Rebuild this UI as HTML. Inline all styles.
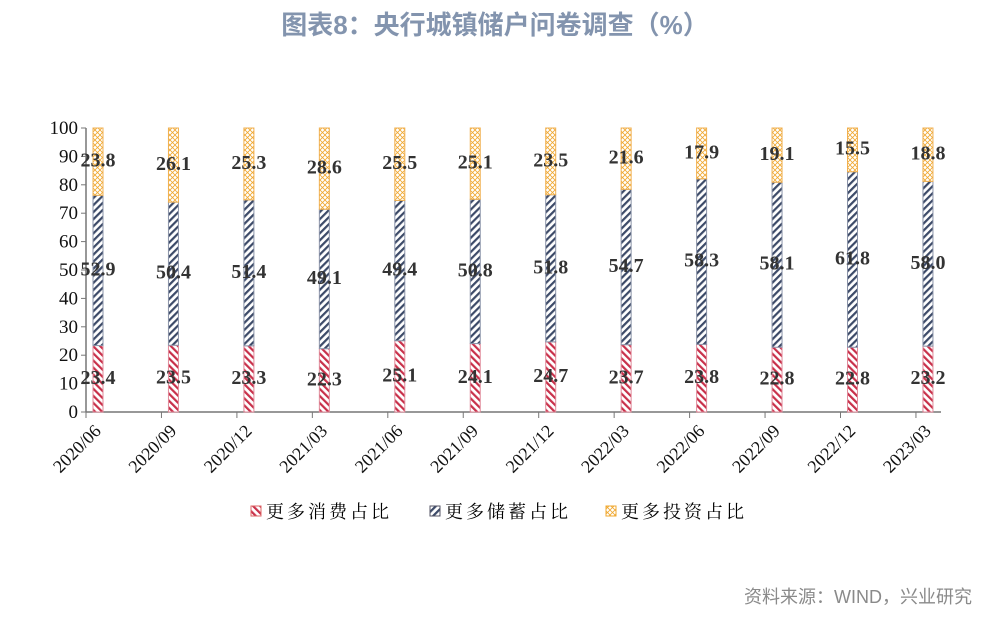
<!DOCTYPE html>
<html><head><meta charset="utf-8"><style>
body{margin:0;background:#fff;width:990px;height:616px;overflow:hidden}
svg text{font-family:"Liberation Serif","Noto Serif CJK SC",serif}
svg text.sans{font-family:"Liberation Sans","Noto Sans CJK SC",sans-serif}
</style></head><body>
<svg width="990" height="616" xmlns="http://www.w3.org/2000/svg">
<defs>
<pattern id="pRed" patternUnits="userSpaceOnUse" width="5" height="5" patternTransform="rotate(-45)"><rect width="5" height="5" fill="#fff"/><rect width="2.2" height="5" fill="#c8304a"/></pattern>
<pattern id="pBlue" patternUnits="userSpaceOnUse" width="5" height="5" patternTransform="rotate(45)"><rect width="5" height="5" fill="#fff"/><rect width="2.2" height="5" fill="#3c4a68"/></pattern>
<pattern id="pOr" patternUnits="userSpaceOnUse" width="5" height="5"><rect width="5" height="5" fill="#fff"/><path d="M0 0L5 5M5 0L0 5" stroke="#f0a830" stroke-width="0.8"/></pattern>
</defs>
<text class="sans" x="495" y="34" text-anchor="middle" font-size="26" font-weight="bold" fill="#8394ae">图表8：央行城镇储户问卷调查（%）</text>
<g id="plot"></g>
<g>
<rect x="251" y="506" width="10" height="10" fill="url(#pRed)" stroke="#d66"/>
<text x="266" y="518" font-size="18" letter-spacing="3">更多消费占比</text>
<rect x="430" y="506" width="10" height="10" fill="url(#pBlue)" stroke="#556"/>
<text x="445" y="518" font-size="18" letter-spacing="3">更多储蓄占比</text>
<rect x="606" y="506" width="10" height="10" fill="url(#pOr)" stroke="#f0a830"/>
<text x="621" y="518" font-size="18" letter-spacing="3">更多投资占比</text>
</g>
<text class="sans" x="972" y="603" text-anchor="end" font-size="18" fill="#8a8a8a">资料来源：WIND，兴业研究</text>
</svg>
<script>
const categories=["2020/06","2020/09","2020/12","2021/03","2021/06","2021/09","2021/12","2022/03","2022/06","2022/09","2022/12","2023/03"];
const consume=[23.4,23.5,23.3,22.3,25.1,24.1,24.7,23.7,23.8,22.8,22.8,23.2];
const save=[52.9,50.4,51.4,49.1,49.4,50.8,51.8,54.7,58.3,58.1,61.8,58.0];
const invest=[23.8,26.1,25.3,28.6,25.5,25.1,23.5,21.6,17.9,19.1,15.5,18.8];
const yTicks=[0,10,20,30,40,50,60,70,80,90,100];
const NS="http://www.w3.org/2000/svg";
const g=document.getElementById('plot');
const x0=86,x1=941,y0=412,yTop=128,step=75.45;
const y=v=>y0-(v/100)*(y0-yTop);
const tickX=i=>x0+i*step;
const barX=i=>tickX(i)+12;
function mk(t,a){const e=document.createElementNS(NS,t);for(const k in a)e.setAttribute(k,a[k]);g.appendChild(e);return e;}
let ax=mk('line',{x1:x0,y1:yTop,x2:x0,y2:y0,stroke:'#777','stroke-width':1.5});


let bx=mk('line',{x1:x0,y1:y0,x2:x1,y2:y0,stroke:'#777','stroke-width':1.5});


yTicks.forEach(v=>{
  let l=mk('line',{x1:x0-5,y1:y(v),x2:x0,y2:y(v),stroke:'#777'});
  
  
  let t=mk('text',{x:x0-8,y:y(v)+6,'text-anchor':'end','font-size':19,fill:'#111'});
  t.textContent=v;
  
  
});
const series=[[consume,'url(#pRed)','#e08a9a','consume'],[save,'url(#pBlue)','#8a93a8','save'],[invest,'url(#pOr)','#f0b050','invest']];
categories.forEach((c,i)=>{
  let tk=mk('line',{x1:tickX(i),y1:y0,x2:tickX(i),y2:y0+6,stroke:'#777'});
  
  
  let base=0;
  series.forEach(([arr,fill,st,nm])=>{
    const v=arr[i];const top=Math.min(base+v,100);
    let r=mk('rect',{x:barX(i)-5,y:y(top),width:10,height:y(base)-y(top),fill:fill,stroke:st,'stroke-width':1});
    
    
    base+=v;
  });
  base=0;
  series.forEach(([arr,fill,st,nm])=>{
    const v=arr[i];
    let t=mk('text',{x:barX(i),y:y(base+v/2)+5,'text-anchor':'middle','font-size':20,'font-weight':'bold',fill:'#333'});
    t.textContent=v.toFixed(1);
    
    
    base+=v;
  });
  let xl=mk('text',{x:barX(i)+4,y:y0+20,'text-anchor':'end','font-size':18,fill:'#111',transform:`rotate(-45 ${barX(i)+4} ${y0+20})`});
  xl.textContent=c;
  
  
});
</script>
</body></html>
